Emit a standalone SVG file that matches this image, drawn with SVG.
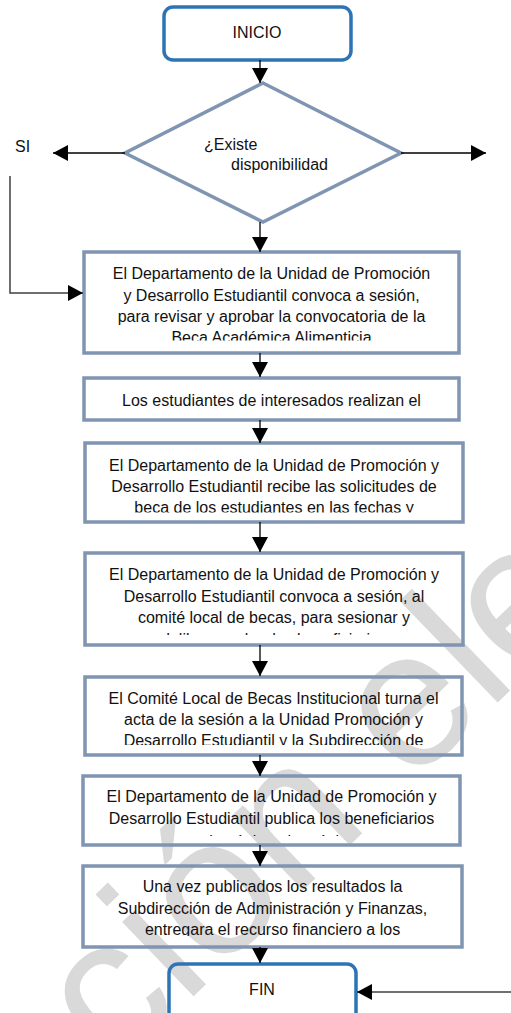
<svg xmlns="http://www.w3.org/2000/svg" width="511" height="1013" viewBox="0 0 511 1013">
<style>
  text { font-family: "Liberation Sans", Arial, sans-serif; font-size: 16px; fill: #111; }
  .c { text-anchor: middle; }
  .box { fill: none; stroke: #7f95b2; stroke-width: 3.5; }
  .term { fill: none; stroke: #2e74b5; stroke-width: 3.5; }
  .dia { fill: none; stroke: #7f95b2; stroke-width: 3.5; stroke-linejoin: miter; }
  .ln { fill: none; stroke: #000; stroke-width: 1.3; }
  .ln2 { fill: none; stroke: #404040; stroke-width: 1.5; }
  .wm { font-size: 195px; fill: #d9d9d9; }
</style>
<defs>
  <marker id="ah" markerUnits="userSpaceOnUse" markerWidth="16" markerHeight="16" viewBox="0 0 15 16" refX="15" refY="8" orient="auto">
    <path d="M0,0 L15,8 L0,16 Z" fill="#000"/>
  </marker>
  <clipPath id="cp1"><rect x="86" y="254" width="371" height="86.5"/></clipPath>
  <clipPath id="cp3"><rect x="87" y="445" width="374" height="67.5"/></clipPath>
  <clipPath id="cp4"><rect x="87" y="555" width="374" height="80"/></clipPath>
  <clipPath id="cp5"><rect x="87" y="679" width="373" height="66"/></clipPath>
  <clipPath id="cp6"><rect x="85" y="778" width="373" height="58"/></clipPath>
  <clipPath id="cp7"><rect x="85" y="868" width="375" height="68"/></clipPath>
</defs>

<g id="watermark">
  <text class="wm" transform="translate(114,1073) rotate(-44)">ción ele</text>
</g>

<g id="inicio">
  <rect class="term" x="164" y="7" width="187" height="53" rx="9"/>
  <text class="c" x="257" y="38">INICIO</text>
</g>

<g id="decision">
  <polygon class="dia" points="263,83 401,153 263,222 125,153"/>
  <text x="204" y="150">¿Existe</text>
  <text x="231" y="170">disponibilidad</text>
</g>

<g id="si-label">
  <text x="15" y="152">SI</text>
</g>

<g id="box1">
  <rect class="box" x="84" y="252" width="375" height="101"/>
  <g clip-path="url(#cp1)">
    <text class="c" x="271.5" y="279">El Departamento de la Unidad de Promoción</text>
    <text class="c" x="271.5" y="300.5">y Desarrollo Estudiantil convoca a sesión,</text>
    <text class="c" x="271.5" y="321.5">para revisar y aprobar la convocatoria de la</text>
    <text class="c" x="271.5" y="343">Beca Académica Alimenticia</text>
  </g>
</g>

<g id="box2">
  <rect class="box" x="84" y="378" width="375" height="42"/>
  <text class="c" x="271.5" y="406">Los estudiantes de interesados realizan el</text>
</g>

<g id="box3">
  <rect class="box" x="85" y="443" width="378" height="79"/>
  <g clip-path="url(#cp3)">
    <text class="c" x="274" y="471">El Departamento de la Unidad de Promoción y</text>
    <text class="c" x="274" y="492">Desarrollo Estudiantil recibe las solicitudes de</text>
    <text class="c" x="274" y="513">beca de los estudiantes en las fechas y</text>
  </g>
</g>

<g id="box4">
  <rect class="box" x="85" y="553" width="378" height="92"/>
  <g clip-path="url(#cp4)">
    <text class="c" x="274" y="580">El Departamento de la Unidad de Promoción y</text>
    <text class="c" x="274" y="601.5">Desarrollo Estudiantil convoca a sesión, al</text>
    <text class="c" x="274" y="623">comité local de becas, para sesionar y</text>
    <text class="c" x="274" y="644.5">deliberar sobre los beneficiarios</text>
  </g>
</g>

<g id="box5">
  <rect class="box" x="85" y="677" width="377" height="78"/>
  <g clip-path="url(#cp5)">
    <text class="c" x="273.5" y="703.5">El Comité Local de Becas Institucional turna el</text>
    <text class="c" x="273.5" y="725">acta de la sesión a la Unidad Promoción y</text>
    <text class="c" x="273.5" y="746">Desarrollo Estudiantil y la Subdirección de</text>
  </g>
</g>

<g id="box6">
  <rect class="box" x="83" y="776" width="377" height="69"/>
  <g clip-path="url(#cp6)">
    <text class="c" x="271.5" y="802">El Departamento de la Unidad de Promoción y</text>
    <text class="c" x="271.5" y="823.5">Desarrollo Estudiantil publica los beneficiarios</text>
    <text class="c" x="271.5" y="847">en la página electrónica</text>
  </g>
</g>

<g id="box7">
  <rect class="box" x="83" y="866" width="379" height="81"/>
  <g clip-path="url(#cp7)">
    <text class="c" x="272.5" y="892">Una vez publicados los resultados la</text>
    <text class="c" x="272.5" y="913.5">Subdirección de Administración y Finanzas,</text>
    <text class="c" x="272.5" y="935">entregara el recurso financiero a los</text>
  </g>
</g>

<g id="fin">
  <rect class="term" x="169" y="964" width="187" height="70" rx="9"/>
  <text class="c" x="262" y="995">FIN</text>
</g>

<g id="connectors">
  <line class="ln" x1="260" y1="60" x2="260" y2="83" marker-end="url(#ah)"/>
  <line class="ln" x1="125" y1="153" x2="53" y2="153" marker-end="url(#ah)"/>
  <line class="ln" x1="401" y1="153" x2="486" y2="153" marker-end="url(#ah)"/>
  <line class="ln" x1="260" y1="222" x2="260" y2="252" marker-end="url(#ah)"/>
  <polyline class="ln2" points="10,176 10,293 83,293" marker-end="url(#ah)"/>
  <line class="ln" x1="260" y1="353" x2="260" y2="377" marker-end="url(#ah)"/>
  <line class="ln" x1="260" y1="420" x2="260" y2="443" marker-end="url(#ah)"/>
  <line class="ln" x1="260" y1="522" x2="260" y2="552" marker-end="url(#ah)"/>
  <line class="ln" x1="260" y1="645" x2="260" y2="676" marker-end="url(#ah)"/>
  <line class="ln" x1="260" y1="755" x2="260" y2="776" marker-end="url(#ah)"/>
  <line class="ln" x1="260" y1="845" x2="260" y2="866" marker-end="url(#ah)"/>
  <line class="ln" x1="260" y1="947" x2="260" y2="963" marker-end="url(#ah)"/>
  <line class="ln2" x1="511" y1="992" x2="357" y2="992" marker-end="url(#ah)"/>
</g>
</svg>
